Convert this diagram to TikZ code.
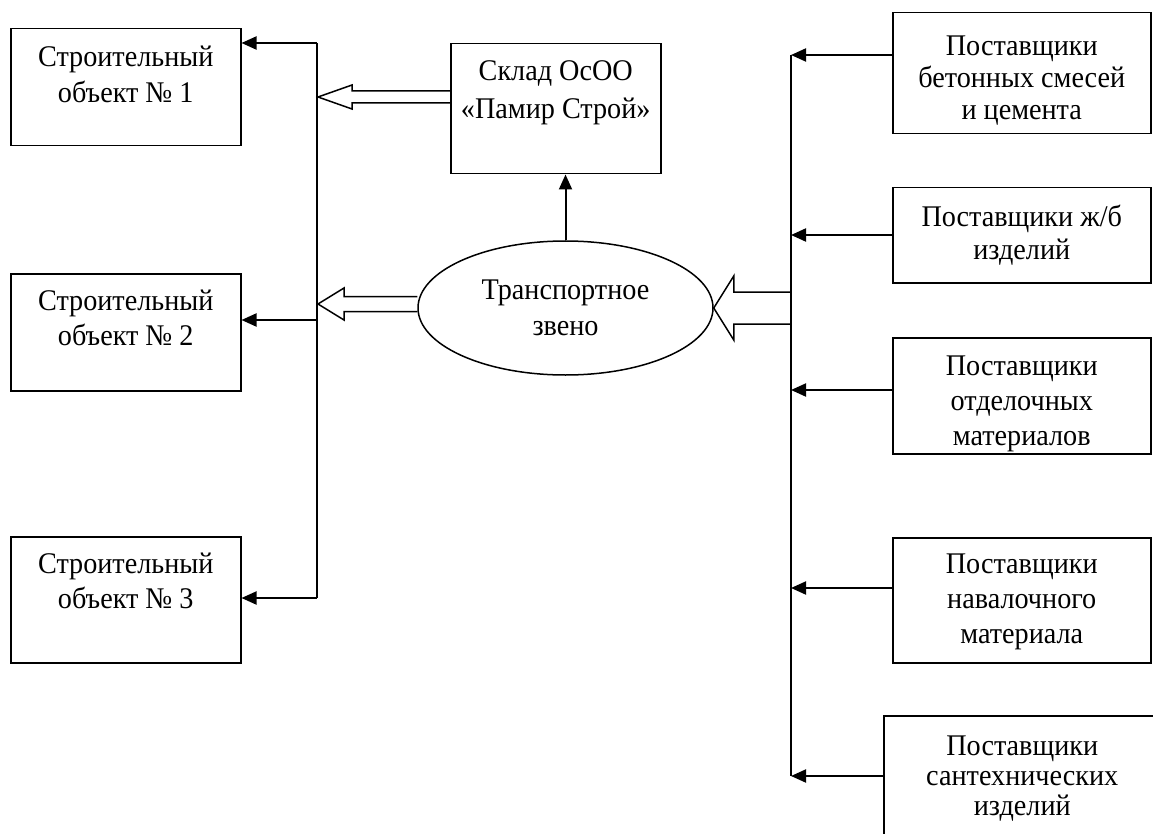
\documentclass[tikz,border=0pt]{standalone}
\usepackage{fontspec}
\setmainfont{Liberation Serif}[FakeStretch=0.94]
\usetikzlibrary{arrows.meta,shapes.geometric,calc}
\newcommand{\bxt}[5]{\parbox[c][#2][t]{#1}{\centering\fontsize{30}{#4}\selectfont\rule{0pt}{#3}#5}}
\begin{document}
\begin{tikzpicture}[x=1pt,y=-1pt,
  box/.style={draw, line width=1.5pt, inner sep=0pt, rectangle, anchor=north west},
  line/.style={line width=2pt},
  arr/.style={line width=2pt, -{Triangle[length=15pt,width=13pt]}},
  hollow/.style={line width=1.5pt, line join=miter}]
\useasboundingbox (0,0) rectangle (1153,834);

% left boxes
\node[box] (o1) at (10,28) {\bxt{230pt}{117pt}{38pt}{36pt}{Строительный\\объект № 1}};
\node[box] (o2) at (10,273) {\bxt{230pt}{117pt}{37pt}{35pt}{Строительный\\объект № 2}};
\node[box] (o3) at (10,536) {\bxt{230pt}{126pt}{37pt}{35pt}{Строительный\\объект № 3}};

% warehouse
\node[box] (wh) at (450,43) {\bxt{210pt}{130pt}{37pt}{38pt}{Склад ОсОО\\«Памир Строй»}};

% transport ellipse
\node[ellipse, draw, line width=1.5pt, minimum width=295pt, minimum height=134pt, inner sep=0pt,
  align=center, font=\fontsize{30}{36}\selectfont] (el) at (565.5,308) {Транспортное\\звено};

% suppliers
\node[box] (sA) at (892,12) {\bxt{258pt}{121pt}{43pt}{32pt}{Поставщики\\бетонных смесей\\и цемента}};
\node[box] (sB) at (892,187) {\bxt{258pt}{95pt}{39pt}{33pt}{Поставщики ж/б\\изделий}};
\node[box] (sC) at (892,337) {\bxt{258pt}{116pt}{38pt}{35pt}{Поставщики\\отделочных\\материалов}};
\node[box] (sD) at (892,537) {\bxt{258pt}{125pt}{36pt}{35pt}{Поставщики\\навалочного\\материала}};
\node[box] (sE) at (883,715) {\bxt{277pt}{135pt}{40pt}{30pt}{Поставщики\\сантехнических\\изделий}};

% left bus
\coordinate (LB1) at (317,43);
\coordinate (LB2) at (317,320);
\coordinate (LB3) at (317,598);
\draw[line] (LB1) -- (LB3);
\draw[arr] (LB1) -- (LB1 -| o1.east);
\draw[arr] (LB2) -- (LB2 -| o2.east);
\draw[arr] (LB3) -- (LB3 -| o3.east);

% right bus
\coordinate (RB1) at (791,55);
\coordinate (RB2) at (791,235);
\coordinate (RB3) at (791,390);
\coordinate (RB4) at (791,588);
\coordinate (RB5) at (791,776);
\draw[line] (RB1) -- (RB5);
\draw[arr] (RB1 -| sA.west) -- (RB1);
\draw[arr] (RB2 -| sB.west) -- (RB2);
\draw[arr] (RB3 -| sC.west) -- (RB3);
\draw[arr] (RB4 -| sD.west) -- (RB4);
\draw[arr] (RB5 -| sE.west) -- (RB5);

% ellipse to warehouse
\draw[arr] (el.north) -- (el.north |- wh.south);

% hollow arrow: warehouse -> left bus
\coordinate (H1) at (318,97);
\draw[hollow] ($(H1 -| wh.west)+(0,-6)$) -- ($(H1)+(34,-6)$) -- ($(H1)+(34,-12)$) -- (H1)
  -- ($(H1)+(34,12)$) -- ($(H1)+(34,6)$) -- ($(H1 -| wh.west)+(0,6)$);

% hollow arrow: ellipse -> left bus
\coordinate (H2) at (318,304);
\draw[hollow] ($(H2 -| el.west)+(0,-7.5)$) -- ($(H2)+(26,-7.5)$) -- ($(H2)+(26,-16)$) -- (H2)
  -- ($(H2)+(26,16)$) -- ($(H2)+(26,7.5)$) -- ($(H2 -| el.west)+(0,7.5)$);

% hollow arrow: right bus -> ellipse
\coordinate (H3) at (el.east);
\draw[hollow] ($(H3 -| RB1)+(0,-16)$) -- ($(H3)+(20,-16)$) -- ($(H3)+(20,-32)$) -- (H3)
  -- ($(H3)+(20,32)$) -- ($(H3)+(20,16)$) -- ($(H3 -| RB1)+(0,16)$);
\end{tikzpicture}
\end{document}
